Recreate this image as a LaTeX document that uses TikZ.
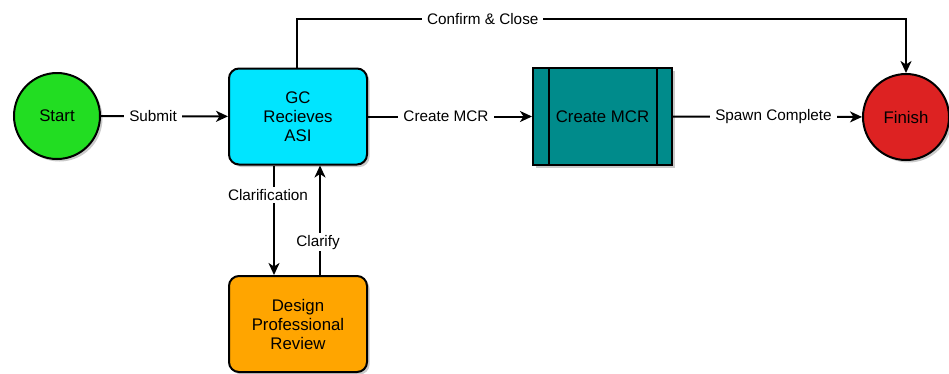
\documentclass[tikz,border=0pt]{standalone}
\usepackage{fontspec}
\setmainfont{Liberation Sans}
\usetikzlibrary{arrows.meta,shadows}
\definecolor{cgreen}{RGB}{34,221,34}
\definecolor{ccyan}{RGB}{0,229,255}
\definecolor{cteal}{RGB}{0,139,139}
\definecolor{corange}{RGB}{255,165,0}
\definecolor{cred}{RGB}{221,34,34}
\tikzset{
  x=1pt, y=-1pt,
  sh/.style={drop shadow={shadow xshift=2.5pt, shadow yshift=-2.5pt, fill=black!35, opacity=0.6}},
  term/.style={circle, draw=black, line width=2pt, minimum size=86pt, inner sep=0pt, sh, font=\fontsize{16.8}{19}\selectfont},
  proc/.style={rectangle, rounded corners=10pt, draw=black, line width=2pt, minimum width=138pt, minimum height=96pt, align=center, sh, font=\fontsize{16.8}{19}\selectfont},
  sub/.style={rectangle, draw=black, line width=2pt, minimum width=139pt, minimum height=97pt, align=center, sh, font=\fontsize{16.8}{19}\selectfont},
  conn/.style={line width=2pt, -{Stealth[length=12pt,width=11pt,inset=3.5pt]}},
  lbl/.style={fill=white, inner xsep=5pt, inner ysep=2pt, font=\fontsize{15.3}{18}\selectfont}
}
\begin{document}
\begin{tikzpicture}
\useasboundingbox (0,0) rectangle (949,373);
\node[term, fill=cgreen] (start) at (57,116) {Start};
\node[proc, fill=ccyan] (gc) at (298,116.5) {GC\\Recieves\\ASI};
\node[sub, fill=cteal] (mcr) at (602.5,116.5) {Create MCR};
\draw[line width=2pt] ([xshift=17pt]mcr.north west) -- ([xshift=17pt]mcr.south west);
\draw[line width=2pt] ([xshift=-16pt]mcr.north east) -- ([xshift=-16pt]mcr.south east);
\node[term, fill=cred] (finish) at (906,117) {Finish};
\node[proc, fill=corange] (dp) at (298,324) {Design\\Professional\\Review};
\coordinate (c1) at (297,19);
\coordinate (c2) at (906,19);

\draw[conn] (start) -- node[lbl, pos=0.41]{Submit} (gc);
\draw[conn] (gc) -- node[lbl, xshift=-4pt]{Create MCR} (mcr);
\draw[conn] (mcr) -- node[lbl, xshift=6pt]{Spawn Complete} (finish);
\draw[conn] (gc.north -| c1) -- (c1) -- node[lbl, pos=0.305]{Confirm \& Close} (c2) -- (finish.north);
\draw[conn] ([xshift=-24pt]gc.south) -- node[lbl, pos=0.27, xshift=-6pt]{Clarification} ([xshift=-24pt]dp.north);
\draw[conn] ([xshift=22pt]dp.north) -- node[lbl, pos=0.3, xshift=-2pt]{Clarify} ([xshift=22pt]gc.south);
\end{tikzpicture}
\end{document}
